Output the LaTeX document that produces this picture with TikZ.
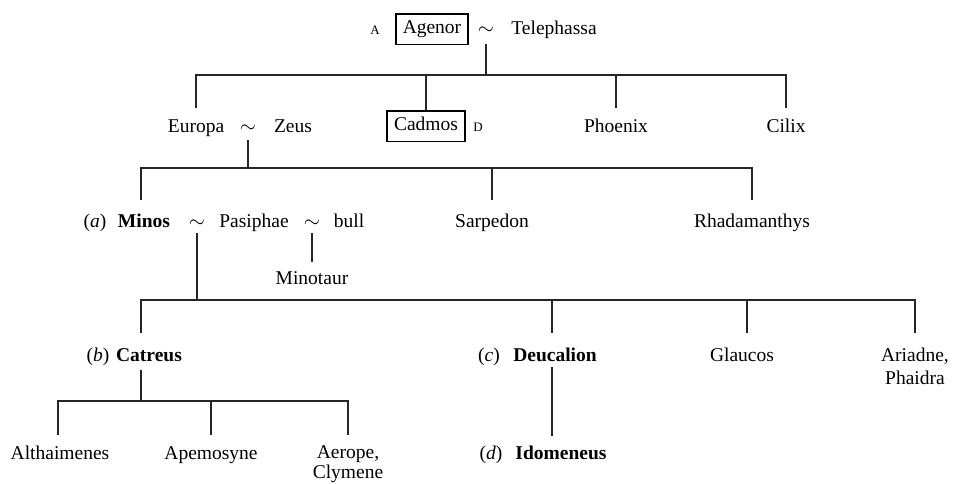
\documentclass[tikz,border=0pt]{standalone}
\usepackage{fontspec}
\setmainfont{Liberation Serif}
\begin{document}
\begin{tikzpicture}[x=1pt,y=-1pt,
  every node/.style={inner sep=0pt,anchor=base,font=\fontsize{19.5}{23}\selectfont,text=black},
  hero/.style={font=\fontsize{19.5}{23}\selectfont\bfseries},
  tag/.style={font=\fontsize{13}{15}\selectfont},
  wed/.style={font=\fontsize{21}{23}\selectfont},
  boxed/.style={draw,line width=1.6pt,inner xsep=7pt,inner ysep=6pt,text height=14pt,text depth=4.5pt},
  pair/.style={align=center,font=\fontsize{19.5}{23}\selectfont},
  tightpair/.style={align=center,font=\fontsize{19.5}{20}\selectfont},
  link/.style={line width=1.7pt,draw=black!85}]
\useasboundingbox (0,0) rectangle (954,484);

% generation 1
\node[tag] (lA) at (375,35) {A};
\node[boxed] (agenor) at (432,34) {Agenor};
\node[wed] (t1) at (486,35) {$\sim$};
\node (telephassa) at (554,35) {Telephassa};

% generation 2
\node (europa) at (196,133) {Europa};
\node[wed] (t2) at (248,133) {$\sim$};
\node (zeus) at (293,133) {Zeus};
\node[boxed] (cadmos) at (426,131) {Cadmos};
\node[tag] (lD) at (478,132) {D};
\node (phoenix) at (616,133) {Phoenix};
\node (cilix) at (786,133) {Cilix};

% generation 3
\node (la) at (95,228) {(\textit{a})};
\node[hero] (minos) at (144,228) {Minos};
\node[wed] (t3) at (197,228) {$\sim$};
\node (pasiphae) at (254,228) {Pasiphae};
\node[wed] (t4) at (312,228) {$\sim$};
\node (bull) at (349,228) {bull};
\node (minotaur) at (312,284) {Minotaur};
\node (sarpedon) at (492,228) {Sarpedon};
\node (rhada) at (752,228) {Rhadamanthys};

% generation 4 (two-line nodes sit on their last line)
\node (lb) at (98,361) {(\textit{b})};
\node[hero] (catreus) at (149,361) {Catreus};
\node (lc) at (489,361) {(\textit{c})};
\node[hero] (deucalion) at (555,361) {Deucalion};
\node (glaucos) at (742,361) {Glaucos};
\node[pair] (ariadne) at (915,384) {Ariadne,\\Phaidra};

% generation 5
\node (althaimenes) at (60,459) {Althaimenes};
\node (apemosyne) at (211,459) {Apemosyne};
\node[tightpair] (aerope) at (348,478) {Aerope,\\Clymene};
\node (ld) at (491,459) {(\textit{d})};
\node[hero] (idomeneus) at (561,459) {Idomeneus};

% bar and drop levels
\coordinate (b1) at (486,75);
\coordinate (r2) at (0,108);
\coordinate (b2) at (248,168);
\coordinate (r3) at (0,200);
\coordinate (x3) at (141,0);
\coordinate (b3) at (141,300);
\coordinate (r4) at (0,333);
\coordinate (x4) at (552,0);
\coordinate (g4) at (747,0);
\coordinate (b4) at (141,401);
\coordinate (r5) at (0,435);
\coordinate (c4) at (141,370);
\coordinate (m4) at (0,262);
\coordinate (k5) at (58,0);
\coordinate (i4) at (552,367);
\coordinate (i5) at (552,436);

% children of Agenor and Telephassa
\draw[link] (t1.base) ++(0,9) -- (t1.base |- b1);
\draw[link] (europa.base |- r2) -- (europa.base |- b1) -- (cilix.base |- b1) -- (cilix.base |- r2);
\draw[link] (cadmos.base |- b1) -- (cadmos.north);
\draw[link] (phoenix.base |- b1) -- (phoenix.base |- r2);

% children of Europa and Zeus
\draw[link] (t2.base) ++(0,7) -- (t2.base |- b2);
\draw[link] (x3 |- r3) -- (x3 |- b2) -- (rhada.base |- b2) -- (rhada.base |- r3);
\draw[link] (sarpedon.base |- b2) -- (sarpedon.base |- r3);

% Pasiphae and the bull
\draw[link] (t4.base) ++(0,5) -- (minotaur.base |- m4);

% children of Minos and Pasiphae
\draw[link] (t3.base) ++(0,5) -- (t3.base |- b3);
\draw[link] (b3 |- r4) -- (b3) -- (ariadne.base |- b3) -- (ariadne.base |- r4);
\draw[link] (x4 |- b3) -- (x4 |- r4);
\draw[link] (g4 |- b3) -- (g4 |- r4);

% children of Catreus
\draw[link] (c4) -- (b4);
\draw[link] (k5 |- r5) -- (k5 |- b4) -- (aerope.base |- b4) -- (aerope.base |- r5);
\draw[link] (apemosyne.base |- b4) -- (apemosyne.base |- r5);

% son of Deucalion
\draw[link] (i4) -- (i5);
\end{tikzpicture}
\end{document}
